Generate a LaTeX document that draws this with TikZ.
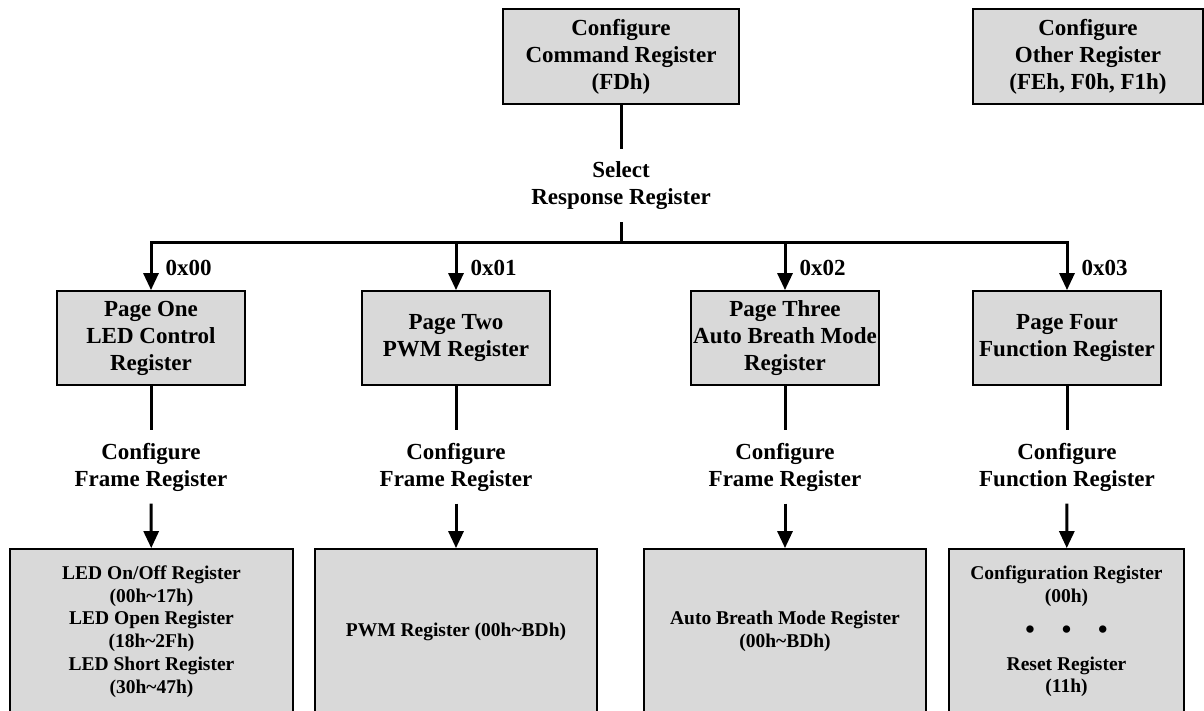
\documentclass[tikz,border=0pt]{standalone}
\usepackage{fontspec}
\setmainfont{Liberation Serif}
\usepackage{tikz}
\usetikzlibrary{arrows.meta,positioning}
\definecolor{boxgray}{RGB}{217,217,217}
\newcommand{\bigdot}{{\fontsize{27}{22.8}\selectfont\textbullet}}

\begin{document}
\begin{tikzpicture}
[x=1pt,y=-1pt,line width=3pt,>={Triangle[width=15pt,length=17pt]},
  reg node/.style={draw,line width=1.8pt,fill=boxgray,align=center,inner sep=0pt,
    font=\fontsize{23}{27}\selectfont\bfseries,minimum width=188pt,minimum height=94pt},
  tag node/.style={align=center,inner sep=11pt,font=\fontsize{23}{27}\selectfont\bfseries},
  code node/.style={anchor=west,inner sep=0pt,font=\fontsize{23}{27}\selectfont\bfseries},
  mem node/.style={draw,line width=1.8pt,fill=boxgray,align=center,inner sep=0pt,
    font=\fontsize{19.5}{22.8}\selectfont\bfseries,minimum width=282pt,minimum height=165pt}]

  \path[use as bounding box,clip] (0,0) rectangle (1204,711);

  % top row
  \node [reg node,minimum width=236pt,minimum height=95pt] (cmd) at (621,56.5) {Configure\\Command Register\\(FDh)};
  \node [reg node,minimum width=230pt,minimum height=95pt] (other) at (1088,56.5) {Configure\\Other Register\\(FEh, F0h, F1h)};
  \node [tag node] (select) at (621,185.5) {Select\\Response Register};
  \coordinate (bus) at (621,243);

  % pages
  \node [reg node] (p1) at (151,338) {Page One\\LED Control\\Register};
  \node [reg node] (p2) at (456,338) {Page Two\\PWM Register};
  \node [reg node] (p3) at (785,338) {Page Three\\Auto Breath Mode\\Register};
  \node [reg node] (p4) at (1067,338) {Page Four\\Function Register};

  \node [code node] (c1) at (164,268) {0x00};
  \node [code node] (c2) at (469,268) {0x01};
  \node [code node] (c3) at (798,268) {0x02};
  \node [code node] (c4) at (1080,268) {0x03};

  \node [tag node] (f1) at (151,467) {Configure\\Frame Register};
  \node [tag node] (f2) at (456,467) {Configure\\Frame Register};
  \node [tag node] (f3) at (785,467) {Configure\\Frame Register};
  \node [tag node] (f4) at (1067,467) {Configure\\Function Register};

  % register maps
  \node [mem node,minimum width=283pt] (m1) at (151.5,631.5) {LED On/Off Register\\(00h\textasciitilde 17h)\\LED Open Register\\(18h\textasciitilde 2Fh)\\LED Short Register\\(30h\textasciitilde 47h)};
  \node [mem node] (m2) at (456,631.5) {PWM Register (00h\textasciitilde BDh)};
  \node [mem node] (m3) at (785,631.5) {Auto Breath Mode Register\\(00h\textasciitilde BDh)};
  \node [mem node,minimum width=235pt] (m4) at (1066.5,631.5) {Configuration Register\\(00h)\\[13pt]\bigdot\hspace{27pt}\bigdot\hspace{27pt}\bigdot\\[9pt]Reset Register\\(11h)};

  \draw (cmd) -- (select);
  \draw (select) -- (bus);
  \foreach \pg in {p1,p2,p3,p4}
    \draw [->] (bus) -| (\pg);
  \foreach \pg/\fr/\mm in {p1/f1/m1,p2/f2/m2,p3/f3/m3,p4/f4/m4}
    {\draw (\pg) -- (\fr);
     \draw [->] (\fr) -- (\mm);}

\end{tikzpicture}
\end{document}
